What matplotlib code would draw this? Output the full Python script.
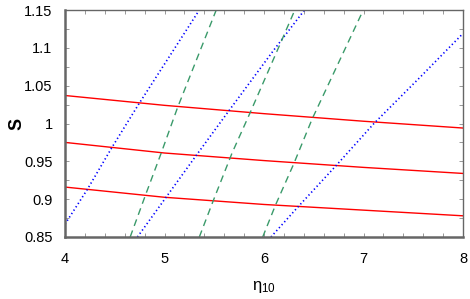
import numpy as np
import matplotlib.pyplot as plt
from matplotlib.ticker import MultipleLocator

plt.rcParams['font.family'] = ['Liberation Sans', 'DejaVu Sans']

# red solid curves, sampled at eta = 4..8
red_x = [4, 5, 6, 7, 8]
red_1 = [1.037, 1.024, 1.013, 1.003, 0.994]
red_2 = [0.975, 0.961, 0.951, 0.942, 0.934]
red_3 = [0.916, 0.9025, 0.893, 0.8855, 0.878]

# blue dotted curves (eta, S)
blue_1_x = [4.0, 4.225, 4.47, 4.738, 5.35]
blue_1_y = [0.867, 0.913, 0.968, 1.025, 1.15]
blue_2_x = [4.728, 5.013, 5.32, 5.637, 6.098, 6.407]
blue_2_y = [0.85, 0.902, 0.958, 1.015, 1.097, 1.15]
blue_3_x = [6.07, 6.343, 6.729, 7.105, 7.575, 8.0]
blue_3_y = [0.85, 0.890, 0.945, 1.000, 1.062, 1.119]

# green dashed curves (eta, S)
green_1_x = [4.655, 4.812, 4.967, 5.131, 5.52]
green_1_y = [0.85, 0.9065, 0.961, 1.021, 1.15]
green_2_x = [5.35, 5.487, 5.679, 5.853, 6.165, 6.31]
green_2_y = [0.85, 0.897, 0.961, 1.012, 1.106, 1.15]
green_3_x = [5.987, 6.115, 6.3, 6.484, 6.998]
green_3_y = [0.85, 0.892, 0.947, 1.006, 1.15]

fig = plt.figure(figsize=(4.70, 2.99), dpi=100)
ax = fig.add_axes([65 / 470, 1 - 237 / 299, 398 / 470, 227 / 299])

for ry in [red_1, red_2, red_3]:
    ax.plot(red_x, ry, color='red', lw=1.0)

for bx, by in [(blue_1_x, blue_1_y), (blue_2_x, blue_2_y), (blue_3_x, blue_3_y)]:
    ax.plot(bx, by, color='blue', lw=1.2, linestyle=(0, (0.8, 1.6)))

for gx, gy in [(green_1_x, green_1_y), (green_2_x, green_2_y), (green_3_x, green_3_y)]:
    ax.plot(gx, gy, color='#3a9a6a', lw=1.0, linestyle=(0, (5, 3.5)))

ax.set_xlim(4, 8)
ax.set_ylim(0.85, 1.15)
ax.xaxis.set_major_locator(MultipleLocator(1))
ax.xaxis.set_minor_locator(MultipleLocator(0.2))
ax.yaxis.set_minor_locator(MultipleLocator(0.025))
ax.set_yticks([0.85, 0.9, 0.95, 1.0, 1.05, 1.1, 1.15])
ax.set_yticklabels(['0.85', '0.9', '0.95', '1', '1.05', '1.1', '1.15'])
ax.tick_params(which='both', direction='in', top=True, right=True,
               length=3, width=0.6, color='#888888', labelsize=10.5)
ax.tick_params(axis='y', pad=9)
ax.tick_params(axis='x', pad=11)
for s in ax.spines.values():
    s.set_color('#666666')
    s.set_linewidth(1.0)
ax.spines['left'].set_linewidth(1.8)
ax.spines['bottom'].set_linewidth(1.8)

ax.set_xlabel(r'$\mathregular{\eta_{10}}$', fontsize=12)
ax.xaxis.set_label_coords(0.5, -0.185)
ax.set_ylabel('S', fontsize=13, fontweight='bold')
ax.yaxis.set_label_coords(-0.10, 0.5)

fig.savefig('out.png', dpi=100)
